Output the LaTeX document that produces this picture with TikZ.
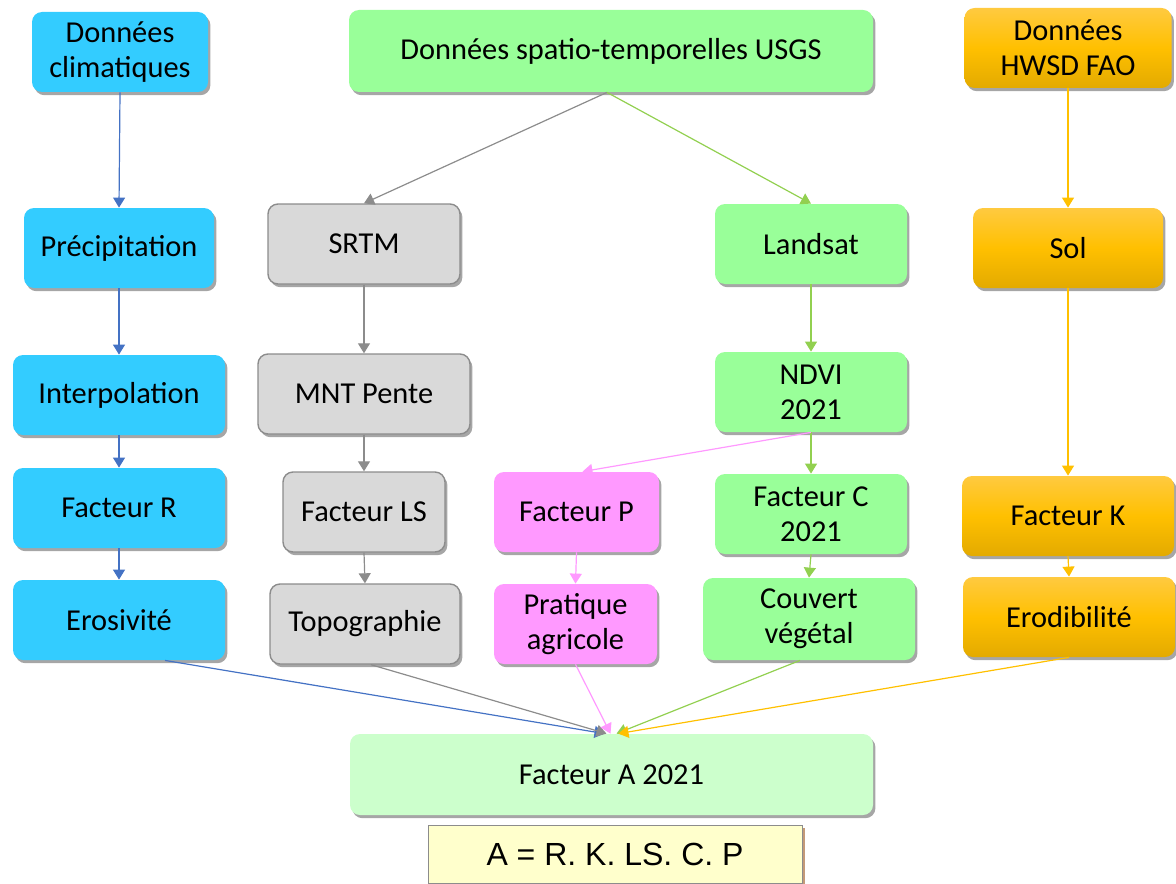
\documentclass[tikz,border=0pt]{standalone}
\usepackage{fontspec}
\setmainfont{Carlito}
\newfontfamily\arialf{Liberation Sans}
\usetikzlibrary{arrows.meta,shadows}

\definecolor{cyanfill}{HTML}{33CCFF}
\definecolor{cyanline}{HTML}{4472C4}
\definecolor{grayfill}{HTML}{D9D9D9}
\definecolor{grayedge}{HTML}{8C8C8C}
\definecolor{grayline}{HTML}{8C8C8C}
\definecolor{greenfill}{HTML}{99FF99}
\definecolor{greenline}{HTML}{92D050}
\definecolor{pinkfill}{HTML}{FF99FF}
\definecolor{pinkline}{HTML}{FF99FF}
\definecolor{orangetop}{HTML}{FFCA40}
\definecolor{orangemid}{HTML}{FFC000}
\definecolor{orangebot}{HTML}{E3AA00}
\definecolor{orangeline}{HTML}{FFC000}
\definecolor{resultfill}{HTML}{CCFFCC}
\definecolor{formulafill}{HTML}{FFFFCC}
\definecolor{formulashadow}{HTML}{C49A78}

\tikzset{
  x=0.5pt, y=-0.5pt,
  box/.style={rounded corners=5pt, align=center, inner sep=0pt,
    minimum height=40pt, font=\fontsize{15.2}{17.5}\selectfont,
    drop shadow={shadow xshift=1.2pt, shadow yshift=-1.6pt, opacity=0.35, fill=black}},
  cyanbox/.style={box, fill=cyanfill},
  graybox/.style={box, fill=grayfill, draw=grayedge, line width=0.7pt},
  greenbox/.style={box, fill=greenfill},
  pinkbox/.style={box, fill=pinkfill},
  orangebox/.style={box, top color=orangetop, bottom color=orangebot, middle color=orangemid},
  resultbox/.style={box, fill=resultfill},
  link/.style={line width=0.6pt, -{Triangle[length=5pt,width=6pt]}},
  bluelink/.style={link, cyanline},
  graylink/.style={link, grayline},
  greenlink/.style={link, greenline},
  pinklink/.style={link, pinkline},
  orangelink/.style={link, orangeline},
}

\begin{document}
\begin{tikzpicture}
\useasboundingbox (0,0) rectangle (1176,883);

% top row: data sources
\node[cyanbox, minimum width=88pt] (dc) at (120,52) {Données\\climatiques};
\node[greenbox, minimum width=262pt, minimum height=41pt] (usgs) at (611,51) {Données spatio-temporelles USGS};
\node[orangebox, minimum width=103.5pt] (hwsd) at (1068,48) {Données\\HWSD FAO};

% second row
\node[cyanbox, minimum width=95pt] (prec) at (119,248) {Précipitation};
\node[graybox, minimum width=96pt] (srtm) at (364,244) {SRTM};
\node[greenbox, minimum width=96pt] (landsat) at (811,244) {Landsat};
\node[orangebox, minimum width=95pt] (sol) at (1068,248) {Sol};

% third row
\node[cyanbox, minimum width=106pt] (interp) at (119,395) {Interpolation};
\node[graybox, minimum width=106pt] (mnt) at (364,394) {MNT Pente};
\node[greenbox, minimum width=96pt] (ndvi) at (811,392) {NDVI\\2021};

% factors
\node[cyanbox, minimum width=106pt] (fr) at (119,508) {Facteur R};
\node[graybox, minimum width=81pt] (fls) at (364,512) {Facteur LS};
\node[pinkbox, minimum width=82.5pt] (fp) at (576.5,512) {Facteur P};
\node[greenbox, minimum width=96pt] (fc) at (811,514) {Facteur C\\2021};
\node[orangebox, minimum width=106pt] (fk) at (1068,516) {Facteur K};

% interpretations
\node[cyanbox, minimum width=106pt] (ero) at (119,620) {Erosivité};
\node[graybox, minimum width=95pt] (topo) at (365,624) {Topographie};
\node[pinkbox, minimum width=81.5pt] (prat) at (575.5,624) {Pratique\\agricole};
\node[greenbox, minimum width=106pt, minimum height=41pt] (couv) at (809,619) {Couvert\\végétal};
\node[orangebox, minimum width=106pt] (erod) at (1069,617) {Erodibilité};

% result and formula
\node[resultbox, minimum width=261.5pt, minimum height=40.5pt] (fa) at (611.5,774.5) {Facteur A 2021};
\node[fill=formulafill, draw=grayedge, line width=0.5pt, minimum width=187pt, minimum height=29pt,
      inner sep=0pt, font=\arialf\fontsize{16}{19}\selectfont,
      drop shadow={shadow xshift=1.5pt, shadow yshift=-1.5pt, fill=formulashadow, opacity=1}]
      (formula) at (615,854) {A = R. K. LS. C. P};

% climate branch
\draw[bluelink] (dc.south) -- (prec.north);
\draw[bluelink] (prec.south) -- (interp.north);
\draw[bluelink] (interp.south) -- (fr.north);
\draw[bluelink] (fr.south) -- (ero.north);

% USGS branch
\draw[graylink] ([xshift=-2pt]usgs.south) -- (srtm.north);
\draw[greenlink] ([xshift=-2pt]usgs.south) -- (landsat.north);
\draw[graylink] (srtm.south) -- (mnt.north);
\draw[graylink] (mnt.south) -- (fls.north);
\draw[graylink] (fls.south) -- (topo.north);
\draw[greenlink] (landsat.south) -- (ndvi.north);
\draw[greenlink] (ndvi.south) -- (fc.north);
\draw[pinklink] (ndvi.south) -- ([xshift=3pt]fp.north);
\draw[pinklink] (fp.south) -- (prat.north);
\draw[greenlink] (fc.south) -- (couv.north);

% soil branch
\draw[orangelink] (hwsd.south) -- (sol.north);
\draw[orangelink] (sol.south) -- (fk.north);
\draw[orangelink] (fk.south) -- (erod.north);

% convergence on factor A
\draw[bluelink] ([xshift=23pt]ero.south) -- ([xshift=-3.5pt]fa.north);
\draw[graylink] ([xshift=3pt]topo.south) -- ([xshift=-2.5pt]fa.north);
\draw[pinklink] (prat.south) -- ([xshift=-0.5pt]fa.north);
\draw[greenlink] ([xshift=-4.5pt]couv.south) -- ([xshift=2.5pt]fa.north);
\draw[orangelink] (erod.south) -- ([xshift=3.5pt]fa.north);
\end{tikzpicture}
\end{document}
